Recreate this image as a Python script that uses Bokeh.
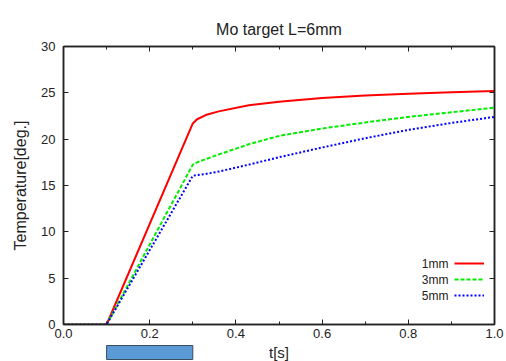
from bokeh.plotting import figure
from bokeh.layouts import column
from bokeh.models import (FixedTicker, LinearAxis, Range1d, Legend, LegendItem,
                          Label)
from bokeh.core.properties import value
from bokeh.embed import file_html
from bokeh.resources import INLINE

# ---- data ----
t = [0.0, 0.1, 0.3, 0.31, 0.33, 0.36, 0.43, 0.5, 0.6, 0.7, 0.8, 0.9, 1.0]
temp_1mm = [0.0, 0.0, 21.7, 22.15, 22.6, 23.0, 23.65, 24.05, 24.45, 24.7, 24.9, 25.05, 25.2]
temp_3mm = [0.0, 0.0, 17.25, 17.5, 17.85, 18.35, 19.45, 20.35, 21.15, 21.8, 22.4, 22.9, 23.4]
temp_5mm = [0.0, 0.0, 16.05, 16.12, 16.25, 16.5, 17.25, 18.05, 19.1, 20.1, 21.0, 21.75, 22.4]
series_names = ["1mm", "3mm", "5mm"]
chart_title = "Mo target L=6mm"
x_title = "t[s]"
y_title = "Temperature[deg.]"

x_ticks = [0.0, 0.2, 0.4, 0.6, 0.8, 1.0]
x_minor = [0.1, 0.3, 0.5, 0.7, 0.9]
x_tick_labels = ["0.0", "0.2", "0.4", "0.6", "0.8", "1.0"]
y_ticks = [0, 5, 10, 15, 20, 25, 30]
beam_on = [0.1, 0.3]   # irradiation period shown by the bar under the axis
beam_bar = [0.0, 1.0]  # bar's own vertical extent in the strip below

FONT = "Liberation Sans"
INK = "#222222"

def strip(height, y0, y1):
    f = figure(frame_width=431, frame_height=height,
               min_border_left=63, min_border_right=12,
               min_border_top=0, min_border_bottom=0,
               x_range=Range1d(0, 1), y_range=Range1d(y0, y1),
               output_backend="svg", toolbar_location=None)
    f.axis.visible = False
    f.grid.visible = False
    f.outline_line_color = None
    f.background_fill_color = "white"
    f.border_fill_color = "white"
    return f

# strip above the chart holding the title (y in pixels, upwards)
top = strip(38, 0, 38)
top.text(x=[0.5], y=[9.5], text=[chart_title], text_align="center",
         text_baseline="alphabetic", text_font=value(FONT),
         text_font_size="16px", text_color=INK)

p = figure(frame_width=431, frame_height=278,
           min_border_left=63, min_border_right=12,
           min_border_top=8, min_border_bottom=18,
           x_range=top.x_range, y_range=Range1d(0, 30),
           output_backend="svg", toolbar_location=None)

p.background_fill_color = "white"
p.border_fill_color = "white"
p.grid.visible = False
p.outline_line_color = INK
p.outline_line_width = 1.5

xt = FixedTicker(ticks=x_ticks, minor_ticks=x_minor)
yt = FixedTicker(ticks=y_ticks, minor_ticks=[])

def style_axis(ax, ticker):
    ax.ticker = ticker
    ax.axis_line_color = INK
    ax.axis_line_width = 1.5
    ax.major_tick_in = 5
    ax.major_tick_out = 0
    ax.minor_tick_in = 3
    ax.minor_tick_out = 0
    ax.major_tick_line_color = INK
    ax.minor_tick_line_color = INK
    ax.major_label_text_font = FONT
    ax.major_label_text_font_size = "13px"
    ax.major_label_text_color = INK
    ax.axis_label_text_font = FONT
    ax.axis_label_text_font_size = "16px"
    ax.axis_label_text_font_style = "normal"
    ax.axis_label_text_color = INK

style_axis(p.xaxis[0], xt)
p.xaxis[0].major_label_overrides = {v: s for v, s in zip(x_ticks, x_tick_labels)}
p.xaxis[0].major_label_standoff = 4

style_axis(p.yaxis[0], yt)
p.yaxis[0].major_label_standoff = 8
p.yaxis[0].axis_label = y_title
p.yaxis[0].axis_label_standoff = 9

for loc, ticker in (("right", yt), ("above", xt)):
    ax = LinearAxis()
    style_axis(ax, ticker)
    ax.major_label_text_font_size = "1px"
    ax.major_label_text_color = None
    ax.major_label_standoff = 0
    p.add_layout(ax, loc)

r1 = p.line(t, temp_1mm, line_color="#ff0000", line_width=2)
r2 = p.line(t, temp_3mm, line_color="#00ee00", line_width=2, line_dash="4 2")
r3 = p.line(t, temp_5mm, line_color="#0000ff", line_width=2, line_dash="2 2")

legend = Legend(items=[LegendItem(label=value(""), renderers=[r])
                       for r in [r1, r2, r3]],
                location=(391, 21), glyph_width=30, glyph_height=16,
                label_height=16, label_width=0, spacing=0, padding=0, margin=0,
                label_standoff=0,
                border_line_color=None, background_fill_alpha=0)
p.add_layout(legend)

# legend texts sit to the left of their samples, as in the reference
for i, name in enumerate(series_names):
    p.add_layout(Label(x=448, y=225 + 16 * i, x_units="canvas", y_units="canvas",
                       text=name, text_align="right", text_baseline="middle",
                       text_font=FONT, text_font_size="12px", text_color=INK))

# strip under the chart: irradiation bar and the x-axis title
q = strip(19, -0.143, 1.214)
q.x_range = top.x_range
q.quad(left=[beam_on[0]], right=[beam_on[1]], bottom=[beam_bar[0]], top=[beam_bar[1]],
       fill_color="#5b9bd5", line_color="#3b4a5e", line_width=1)
q.text(x=[0.5], y=[0.52], text=[x_title], text_align="center", text_baseline="middle",
       text_font=value(FONT), text_font_size="15px", text_color=INK)

layout = column(top, p, q, spacing=0)

open("out.html", "w").write(file_html(layout, INLINE))
